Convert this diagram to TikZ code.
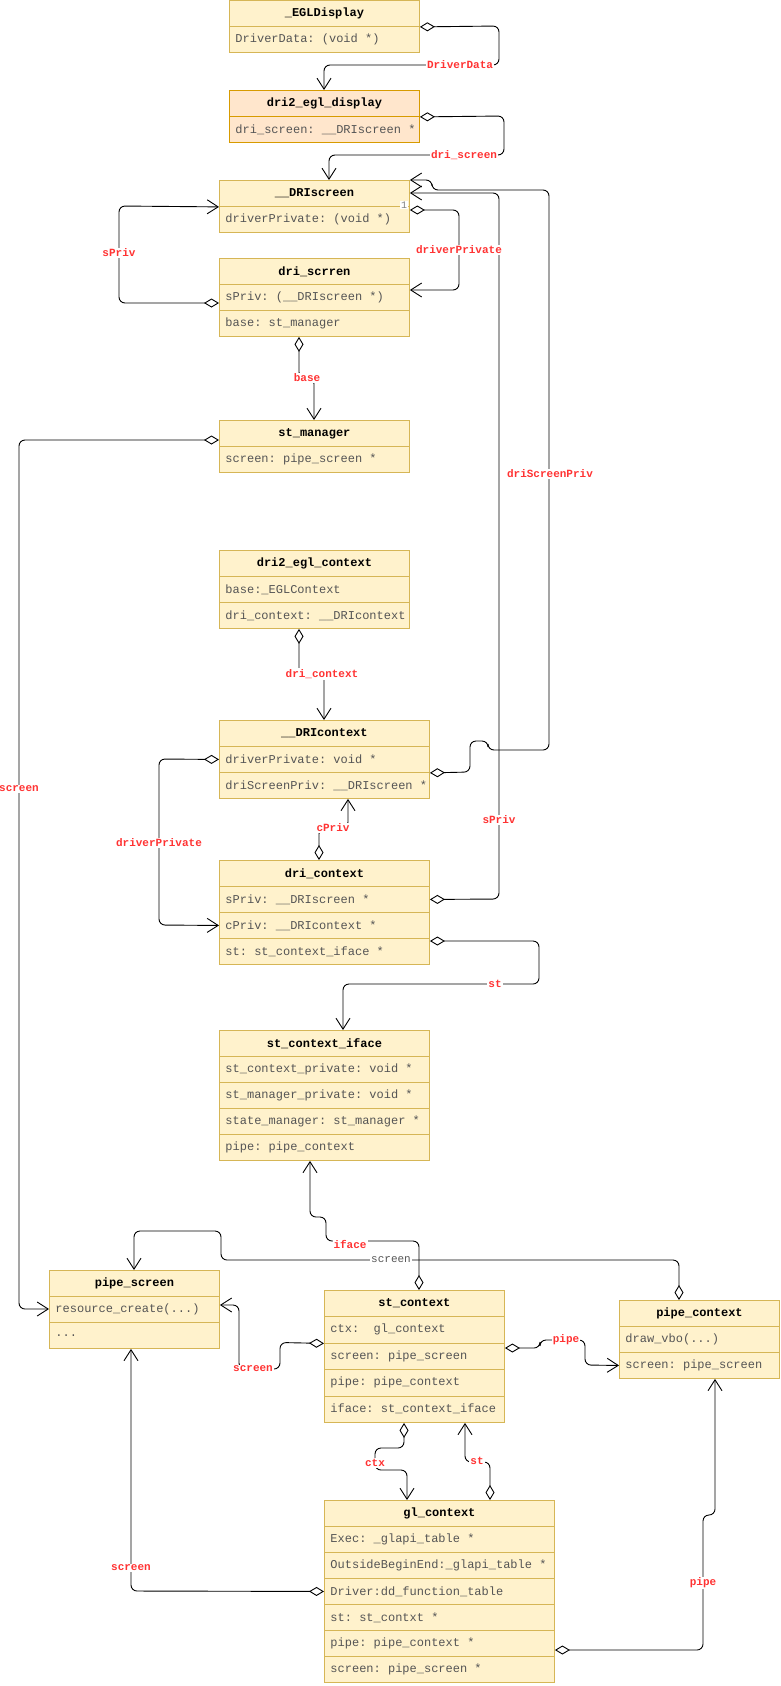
\documentclass[tikz,border=0pt]{standalone}
\usepackage{fontspec}
\setmonofont{Liberation Mono}
\usetikzlibrary{arrows.meta,calc}
\definecolor{boxfill}{HTML}{FFF2CC}
\definecolor{boxline}{HTML}{D6B656}
\definecolor{ofill}{HTML}{FFE6CC}
\definecolor{oline}{HTML}{D79B00}
\definecolor{rowtext}{HTML}{555555}
\definecolor{lblred}{HTML}{FF3333}
\tikzset{
  boxcol/.style={draw=boxline, fill=boxfill},
  hdr/.style={boxcol, line width=0.9pt, minimum height=26pt, inner sep=0pt, anchor=north west,
    font=\ttfamily\bfseries\fontsize{12}{14}\selectfont},
  rowst/.style={boxcol, line width=0.9pt, inner xsep=6pt, inner ysep=0pt, anchor=north west,
    font=\ttfamily\fontsize{12}{14}\selectfont, text=rowtext},
  assoc/.style={draw, line width=0.9pt, rounded corners=6pt,
    {Diamond[fill=white,length=15pt,width=9pt]}-{Straight Barb[length=11pt,width=14pt]}},
  lbl/.style={font=\ttfamily\bfseries\fontsize{11}{13}\selectfont, text=lblred, fill=white, inner sep=1pt},
  glbl/.style={font=\ttfamily\fontsize{11}{13}\selectfont, text=rowtext, fill=white, inner sep=1pt},
}
\newcommand\uhdr[5]{\node[hdr,minimum width=#4pt] (#1) at (#2,#3) {#5};}
\newcommand\urow[6]{\node[rowst,minimum width=#4pt,minimum height=#5pt] (#1) at (#2,#3) {\makebox[\dimexpr#4pt-12pt\relax][l]{#6}};}
\begin{document}
\begin{tikzpicture}[x=1pt,y=-1pt]
\path[use as bounding box, fill=white] (0,0) rectangle (780,1686);

% ---- boxes ----
\uhdr{eglh}{229}{0}{190}{\_EGLDisplay}
\urow{egl1}{229}{26}{190}{26}{DriverData: (void *)}

\begin{scope}[boxcol/.style={draw=oline, fill=ofill}]
\uhdr{dedh}{229}{90}{190}{dri2\_egl\_display}
\urow{ded1}{229}{116}{190}{26}{dri\_screen: \_\_DRIscreen *}
\end{scope}

\uhdr{drsh}{219}{180}{190}{\_\_DRIscreen}
\urow{drs1}{219}{206}{190}{26}{driverPrivate: (void *)}

\uhdr{dsch}{219}{258}{190}{dri\_scrren}
\urow{dsc1}{219}{284}{190}{26}{sPriv: (\_\_DRIscreen *)}
\urow{dsc2}{219}{310}{190}{26}{base: st\_manager}

\uhdr{stmh}{219}{420}{190}{st\_manager}
\urow{stm1}{219}{446}{190}{26}{screen: pipe\_screen *}

\uhdr{dech}{219}{550}{190}{dri2\_egl\_context}
\urow{dec1}{219}{576}{190}{26}{base:\_EGLContext}
\urow{dec2}{219}{602}{190}{26}{dri\_context: \_\_DRIcontext}

\uhdr{drch}{219}{720}{210}{\_\_DRIcontext}
\urow{drc1}{219}{746}{210}{26}{driverPrivate: void *}
\urow{drc2}{219}{772}{210}{26}{driScreenPriv: \_\_DRIscreen *}

\uhdr{dcxh}{219}{860}{210}{dri\_context}
\urow{dcx1}{219}{886}{210}{26}{sPriv: \_\_DRIscreen *}
\urow{dcx2}{219}{912}{210}{26}{cPriv: \_\_DRIcontext *}
\urow{dcx3}{219}{938}{210}{26}{st: st\_context\_iface *}

\uhdr{scih}{219}{1030}{210}{st\_context\_iface}
\urow{sci1}{219}{1056}{210}{26}{st\_context\_private: void *}
\urow{sci2}{219}{1082}{210}{26}{st\_manager\_private: void *}
\urow{sci3}{219}{1108}{210}{26}{state\_manager: st\_manager *}
\urow{sci4}{219}{1134}{210}{26}{pipe: pipe\_context}

\uhdr{psh}{49}{1270}{170}{pipe\_screen}
\urow{ps1}{49}{1296}{170}{26}{resource\_create(...)}
\urow{ps2}{49}{1322}{170}{26}{...}

\uhdr{stch}{324}{1290}{180}{st\_context}
\urow{stc1}{324}{1316}{180}{26.5}{ctx:\ \ gl\_context}
\urow{stc2}{324}{1342.5}{180}{26.5}{screen: pipe\_screen}
\urow{stc3}{324}{1369}{180}{26.5}{pipe: pipe\_context}
\urow{stc4}{324}{1395.5}{180}{26.5}{iface: st\_context\_iface}

\uhdr{pch}{619}{1300}{160}{pipe\_context}
\urow{pc1}{619}{1326}{160}{26}{draw\_vbo(...)}
\urow{pc2}{619}{1352}{160}{26}{screen: pipe\_screen}

\uhdr{glh}{324}{1500}{230}{gl\_context}
\urow{gl1}{324}{1526}{230}{26}{Exec: \_glapi\_table *}
\urow{gl2}{324}{1552}{230}{26}{OutsideBeginEnd:\_glapi\_table *}
\urow{gl3}{324}{1578}{230}{26}{Driver:dd\_function\_table}
\urow{gl4}{324}{1604}{230}{26}{st: st\_contxt *}
\urow{gl5}{324}{1630}{230}{26}{pipe: pipe\_context *}
\urow{gl6}{324}{1656}{230}{26}{screen: pipe\_screen *}

% ---- connectors ----
\draw[assoc] (eglh.south east) -- (499,26) -- (499,65) -- (324,65) -- (324,0 |- dedh.north);
\draw[assoc] (dedh.south east) -- (504,116) -- (504,155) -- (329,155) -- (329,0 |- drsh.north);
\draw[assoc] (drs1.east |- 0,210) -- (459,210) -- (459,290) -- (dsc1.east |- 0,290);
\draw[assoc] (dsc1.west |- 0,303) -- (119,303) -- (119,206) -- (drsh.south west);
\draw[assoc] (299,0 |- dsc2.south) -- (299,378) -- (314,378) -- (314,0 |- stmh.north);
\draw[assoc] (stmh.west |- 0,440) -- (19,440) -- (19,1309) -- (ps1.west |- 0,1309);
\draw[assoc] (299,0 |- dec2.south) -- (299,674) -- (324,674) -- (324,0 |- drch.north);
\draw[assoc] (319,0 |- dcxh.north) -- (319,828) -- (348,828) -- (348,0 |- drc2.south);
\draw[assoc] (drc1.west) -- (159,759) -- (159,925) -- (dcx2.west);
\draw[assoc] (dcx1.east) -- (499,899) -- (499,193) -- (drsh.east |- 0,193);
\draw[assoc] (drc1.south east) -- (470,772) -- (470,741) -- (488,741) -- (488,750) -- (549,750) -- (549,190) -- (432,190) -- (432,180) -- (drsh.north east);
\draw[assoc] (dcx3.east |- 0,941) -- (539,941) -- (539,984) -- (343,984) -- (343,0 |- scih.north);
\draw[assoc] (419,0 |- stch.north) -- (419,1241) -- (326,1241) -- (326,1217) -- (310,1217) -- (310,0 |- sci4.south);
\draw[assoc] (679,0 |- pch.north) -- (679,1260) -- (221,1260) -- (221,1231) -- (134,1231) -- (134,0 |- psh.north);
\draw[assoc] (stc1.south west) -- (280,1342.5) -- (280,1369) -- (239,1369) -- (239,1305) -- (ps1.east |- 0,1305);
\draw[assoc] (stc2.east |- 0,1348) -- (540,1348) -- (540,1340) -- (585,1340) -- (585,1365) -- (pc2.west);
\draw[assoc] (404,0 |- stc4.south) -- (404,1448) -- (375,1448) -- (375,1470) -- (407,1470) -- (407,0 |- glh.north);
\draw[assoc] (490,0 |- glh.north) -- (490,1462) -- (465,1462) -- (465,0 |- stc4.south);
\draw[assoc] (gl5.east |- 0,1650) -- (703,1650) -- (703,1515) -- (715,1515) -- (715,0 |- pc2.south);
\draw[assoc] (gl3.west) -- (131,1591) -- (131,0 |- ps2.south);

% ---- labels ----
\node[lbl] (lDriverData) at (460,65) {DriverData};
\node[lbl] (ldriscreen) at (464,155) {dri\_screen};
\node[lbl] (ldrvprivA) at (459,250) {driverPrivate};
\node[lbl] (lsprivA) at (119,253) {sPriv};
\node[lbl] (lbase) at (307,378) {base};
\node[lbl] (lscreenA) at (19,789) {screen};
\node[lbl] (ldrictx) at (322,674) {dri\_context};
\node[lbl] (lcpriv) at (333,828) {cPriv};
\node[lbl] (ldrvprivB) at (159,843) {driverPrivate};
\node[lbl] (lsprivB) at (499,820) {sPriv};
\node[lbl] (ldscrpriv) at (550,474) {driScreenPriv};
\node[lbl] (lst) at (495,984) {st};
\node[lbl] (liface) at (350,1244) {iface};
\node[glbl] (lscreenB) at (391,1260) {screen};
\node[lbl] (lscreenC) at (253,1369) {screen};
\node[lbl] (lpipeA) at (566,1340) {pipe};
\node[lbl] (lctx) at (375,1463) {ctx};
\node[lbl] (lstB) at (477,1461) {st};
\node[lbl] (lpipeB) at (703,1583) {pipe};
\node[lbl] (lscreenD) at (131,1568) {screen};
\node[font=\ttfamily\fontsize{10}{12}\selectfont, text=gray, fill=white, inner sep=1pt] (lone) at (404,205) {1};
\end{tikzpicture}
\end{document}
